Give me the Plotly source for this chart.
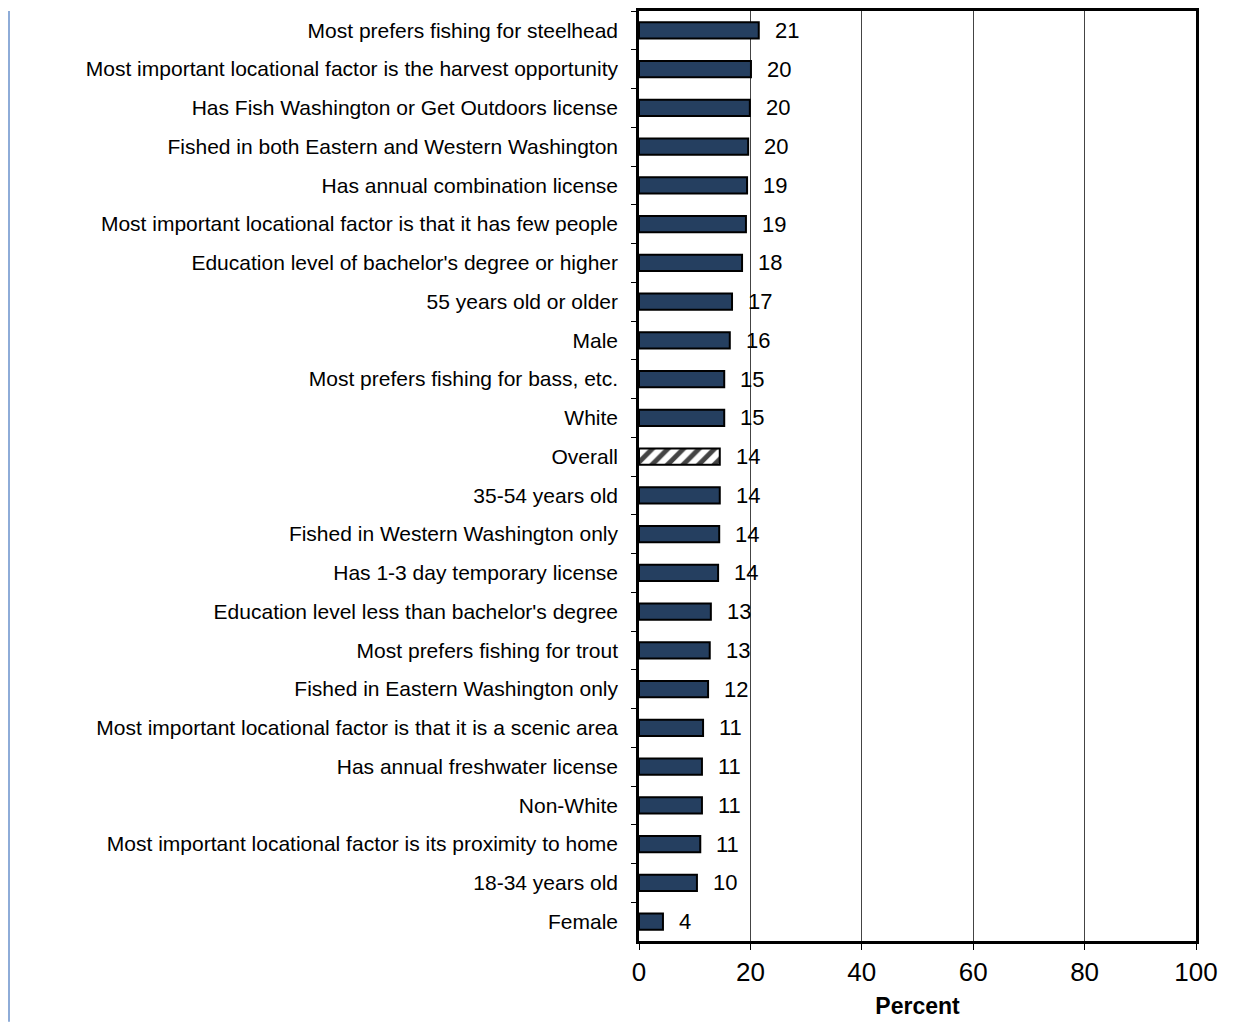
import plotly.graph_objects as go

categories = [
    "Most prefers fishing for steelhead",
    "Most important locational factor is the harvest opportunity",
    "Has Fish Washington or Get Outdoors license",
    "Fished in both Eastern and Western Washington",
    "Has annual combination license",
    "Most important locational factor is that it has few people",
    "Education level of bachelor's degree or higher",
    "55 years old or older",
    "Male",
    "Most prefers fishing for bass, etc.",
    "White",
    "Overall",
    "35-54 years old",
    "Fished in Western Washington only",
    "Has 1-3 day temporary license",
    "Education level less than bachelor's degree",
    "Most prefers fishing for trout",
    "Fished in Eastern Washington only",
    "Most important locational factor is that it is a scenic area",
    "Has annual freshwater license",
    "Non-White",
    "Most important locational factor is its proximity to home",
    "18-34 years old",
    "Female",
]
# percent values (bar lengths)
values = [21.5, 20.1, 19.9, 19.6, 19.4, 19.2, 18.5, 16.7, 16.3, 15.3, 15.3, 14.5,
          14.5, 14.4, 14.2, 12.9, 12.7, 12.4, 11.5, 11.3, 11.3, 11.0, 10.4, 4.3]
value_labels = ["21", "20", "20", "20", "19", "19", "18", "17", "16", "15", "15", "14",
                "14", "14", "14", "13", "13", "12", "11", "11", "11", "11", "10", "4"]
highlight = "Overall"

NAVY = "#253f60"
FONT = "Liberation Sans, Arial, sans-serif"

# page body adds 8px, so the figure is a bit smaller than the window
W, H = 1245, 1014
ML, MR, MT, MB = 631, 57, 0, 81

fig = go.Figure()
fig.add_trace(
    go.Bar(
        x=values,
        y=categories,
        orientation="h",
        width=0.42,
        marker={
            "color": ["white" if c == highlight else NAVY for c in categories],
            "line": {"color": "black", "width": 2},
            "pattern": {
                "shape": ["/" if c == highlight else "" for c in categories],
                "fgcolor": [NAVY] * len(categories),
                "bgcolor": ["white"] * len(categories),
                "fgopacity": 1,
                "size": 11,
                "solidity": 0.45,
            },
        },
        showlegend=False,
        hoverinfo="skip",
    ),
)

for cat, val, lab in zip(categories, values, value_labels):
    fig.add_annotation(
        x=val,
        y=cat,
        text=lab,
        showarrow=False,
        xanchor="left",
        xshift=14,
        font={"family": FONT, "size": 22, "color": "black"},
    )

# thin blue rule on the far left of the page
plot_w = W - ML - MR
plot_h = H - MT - MB
fig.add_shape(
    type="line",
    xref="paper",
    yref="paper",
    x0=(1 - ML) / plot_w,
    x1=(1 - ML) / plot_w,
    y0=-MB / plot_h,
    y1=1 + MT / plot_h,
    line={"color": "#8eacd8", "width": 2},
)

fig.update_xaxes(
    range=[0, 100],
    dtick=20,
    showgrid=True,
    gridcolor="#444444",
    gridwidth=1,
    showline=True,
    linecolor="black",
    linewidth=2.5,
    mirror=True,
    ticks="outside",
    ticklen=6,
    tickcolor="black",
    tickfont={"family": FONT, "size": 26, "color": "black"},
    title={"text": "<b>Percent</b>", "font": {"family": FONT, "size": 23, "color": "black"}, "standoff": 12},
    zeroline=False,
)
fig.update_yaxes(
    autorange="reversed",
    showline=True,
    linecolor="black",
    linewidth=2.5,
    mirror=True,
    ticks="outside",
    ticklen=5,
    tickcolor="black",
    tickson="boundaries",
    ticklabelstandoff=14,
    tickfont={"family": FONT, "size": 21, "color": "black"},
    showgrid=False,
)
fig.update_layout(
    width=W,
    height=H,
    margin={"l": ML, "r": MR, "t": MT, "b": MB},
    paper_bgcolor="white",
    plot_bgcolor="white",
)

fig.write_html("out.html")
